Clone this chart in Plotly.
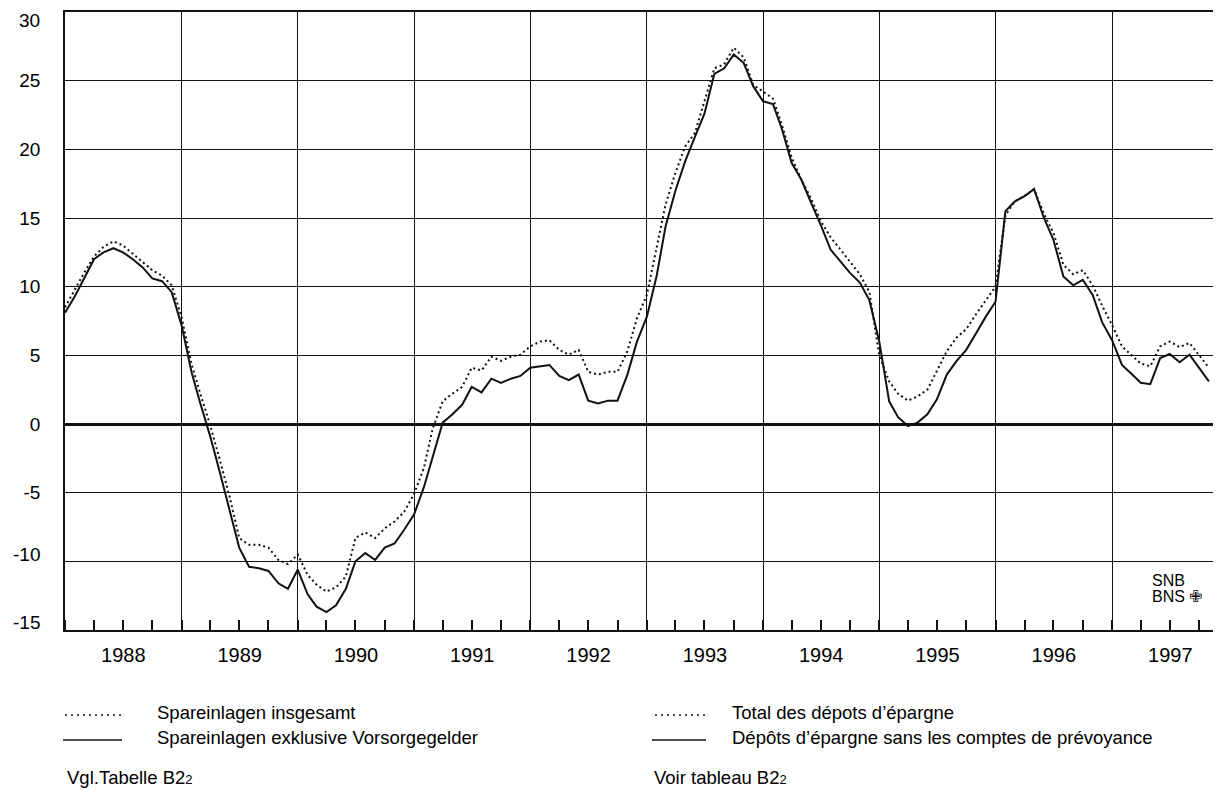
import plotly.graph_objects as go

FONT = "Liberation Sans, Arial, Helvetica, sans-serif"

# Year-on-year growth of savings deposits, monthly, Jan 1988 - Nov 1997 (%)
start_year = 1988
total_deposits = [
    8.5, 9.8, 11.0, 12.2, 12.9, 13.3, 13.0, 12.4, 11.8, 11.2, 10.8, 10.1,      # 1988
    7.8, 4.4, 2.2, -0.1, -2.6, -5.3, -8.3, -8.8, -8.8, -9.0, -9.9, -10.2,      # 1989
    -9.5, -11.0, -11.7, -12.2, -11.9, -11.1, -8.3, -7.9, -8.3, -7.6, -7.1, -6.4,  # 1990
    -5.1, -3.2, -0.3, 1.65, 2.2, 2.7, 4.1, 3.9, 4.9, 4.6, 4.9, 5.05,           # 1991
    5.65, 6.0, 6.1, 5.4, 5.05, 5.4, 3.8, 3.6, 3.8, 3.8, 5.3, 7.7,             # 1992
    9.4, 12.8, 16.0, 18.3, 20.2, 21.2, 23.5, 25.9, 26.2, 27.4, 26.7, 24.7,    # 1993
    24.2, 23.7, 21.8, 19.4, 17.8, 16.4, 14.8, 13.6, 12.7, 11.8, 10.9, 9.6,    # 1994
    5.0, 3.1, 2.2, 1.7, 2.0, 2.5, 3.9, 5.3, 6.3, 6.9, 8.0, 9.0,               # 1995
    10.0, 15.2, 16.2, 16.6, 17.1, 15.3, 13.9, 11.6, 10.9, 11.2, 10.1, 8.6,    # 1996
    7.2, 5.65, 5.05, 4.4, 4.2, 5.65, 6.0, 5.6, 5.9, 5.05, 4.1,                # 1997
]
excl_pension = [
    8.1, 9.3, 10.6, 12.0, 12.5, 12.8, 12.5, 12.0, 11.4, 10.6, 10.4, 9.6,      # 1988
    7.2, 3.8, 1.5, -0.9, -3.5, -6.2, -9.0, -10.4, -10.5, -10.7, -11.6, -12.0,  # 1989
    -10.6, -12.4, -13.3, -13.7, -13.2, -12.0, -10.0, -9.4, -9.9, -9.0, -8.7, -7.7,  # 1990
    -6.6, -4.6, -2.4, 0.1, 0.7, 1.4, 2.7, 2.3, 3.3, 3.0, 3.3, 3.5,            # 1991
    4.1, 4.2, 4.3, 3.5, 3.2, 3.6, 1.7, 1.5, 1.7, 1.7, 3.6, 6.0,               # 1992
    7.8, 10.8, 14.4, 17.0, 19.1, 20.9, 22.6, 25.5, 25.9, 26.9, 26.3, 24.6,    # 1993
    23.5, 23.3, 21.5, 19.0, 17.8, 16.1, 14.5, 12.7, 11.8, 11.0, 10.3, 9.0,    # 1994
    6.0, 1.65, 0.5, -0.15, 0.1, 0.7, 1.8, 3.6, 4.6, 5.4, 6.6, 7.8,            # 1995
    8.9, 15.5, 16.2, 16.6, 17.1, 15.0, 13.4, 10.75, 10.1, 10.5, 9.4, 7.4,     # 1996
    6.1, 4.3, 3.7, 3.0, 2.9, 4.8, 5.1, 4.5, 5.05, 4.1, 3.1,                   # 1997
]
y_tickvals = [-15, -10, -5, 0, 5, 10, 15, 20, 25, 30]
y_ticktext = ["-15", "-10", "-5", "0", "5", "10", "15", "20", "25", "30"]
# labels that the original nudges off their grid line (value -> shift in px, + = up)
y_label_nudge = {30: -8.5, -10: 7, -15: 7.5}

legend_de = ["Spareinlagen insgesamt", "Spareinlagen exklusive Vorsorgegelder"]
legend_fr = ["Total des dépots d’épargne", "Dépôts d’épargne sans les comptes de prévoyance"]
source_de = "Vgl.Tabelle B2<span style='font-size:13px'>2</span>"
source_fr = "Voir tableau B2<span style='font-size:13px'>2</span>"

dates = [f"{start_year + i // 12}-{i % 12 + 1:02d}-01" for i in range(len(total_deposits))]

# the page body has an 8px default margin: size the figure so that it fills the window
OFF = 8
W, H = 1221 - OFF, 791 - OFF
L, R, T, B = 65 - OFF, 0, 12 - OFF, 161
PW, PH = W - L - R, H - T - B


def px2x(px):  # window pixel -> paper x
    return (px - OFF - L) / PW


def py2y(py):  # window pixel -> paper y
    return (H - B - (py - OFF)) / PH


fig = go.Figure()
fig.add_trace(go.Scatter(x=dates, y=total_deposits, mode="lines",
                         line=dict(color="#111", width=2, dash="2px,3px"),
                         name=legend_de[0], hoverinfo="x+y"))
fig.add_trace(go.Scatter(x=dates, y=excl_pension, mode="lines",
                         line=dict(color="#111", width=2),
                         name=legend_de[1], hoverinfo="x+y"))

fig.update_layout(
    width=W, height=H,
    margin=dict(l=L, r=R, t=T, b=B, autoexpand=False),
    paper_bgcolor="white", plot_bgcolor="white",
    showlegend=False,
    font=dict(family=FONT, color="black"),
)

fig.update_xaxes(
    type="date", range=["1988-01-01", "1997-12-09"], automargin=False,
    dtick="M12", tick0="1988-01-01", tickformat="%Y", ticklabelmode="period",
    showgrid=True, gridcolor="#111", gridwidth=1.4,
    ticks="inside", ticklen=10, tickcolor="#111", tickwidth=1.5,
    minor=dict(dtick="M3", tick0="1988-01-01", ticks="inside", ticklen=10,
               tickcolor="#111", tickwidth=1.5, showgrid=False),
    showline=True, linecolor="#111", linewidth=2, mirror=True,
    tickfont=dict(size=20, family=FONT, color="black"),
    ticklabelstandoff=6, zeroline=False,
)
fig.update_yaxes(
    range=[-15, 30], tickvals=y_tickvals,
    ticktext=["" if v in y_label_nudge else t for v, t in zip(y_tickvals, y_ticktext)],
    automargin=False,
    showgrid=True, gridcolor="#111", gridwidth=1.4,
    zeroline=True, zerolinecolor="#111", zerolinewidth=3.2,
    showline=True, linecolor="#111", linewidth=1.6,
    ticks="", tickfont=dict(size=19, family=FONT, color="black"),
    ticklabelstandoff=19,
)

ann = []
shapes = []

for v, t in zip(y_tickvals, y_ticktext):
    if v in y_label_nudge:
        ann.append(dict(xref="paper", yref="y", x=0, y=v, text=t, showarrow=False,
                        xanchor="right", yanchor="middle", xshift=-23,
                        yshift=y_label_nudge[v],
                        font=dict(size=19, family=FONT, color="black")))


def text(px, py, s, size=18.5, anchor="left"):
    ann.append(dict(xref="paper", yref="paper", x=px2x(px), y=py2y(py), text=s,
                    showarrow=False, xanchor=anchor, yanchor="middle",
                    font=dict(size=size, family=FONT, color="black")))


def sample(x0, x1, py, dash):
    shapes.append(dict(type="line", xref="paper", yref="paper",
                       x0=px2x(x0), x1=px2x(x1), y0=py2y(py), y1=py2y(py),
                       line=dict(color="#111", width=1.6, dash=dash)))


# legend (German, left)
sample(65, 122, 715, "2px,4px")
sample(63, 122, 740, "solid")
text(155, 712, legend_de[0])
text(155, 737, legend_de[1])
text(65, 777, source_de)
# legend (French, right)
sample(655, 706, 715, "2px,4px")
sample(652, 706, 740, "solid")
text(730, 712, legend_fr[0])
text(730, 737, legend_fr[1])
text(652, 777, source_fr)
# SNB logo text
text(1150, 580, "SNB", size=16)
text(1150, 596, "BNS ✙", size=16)

fig.update_layout(annotations=ann, shapes=shapes)
fig.write_html("out.html")
